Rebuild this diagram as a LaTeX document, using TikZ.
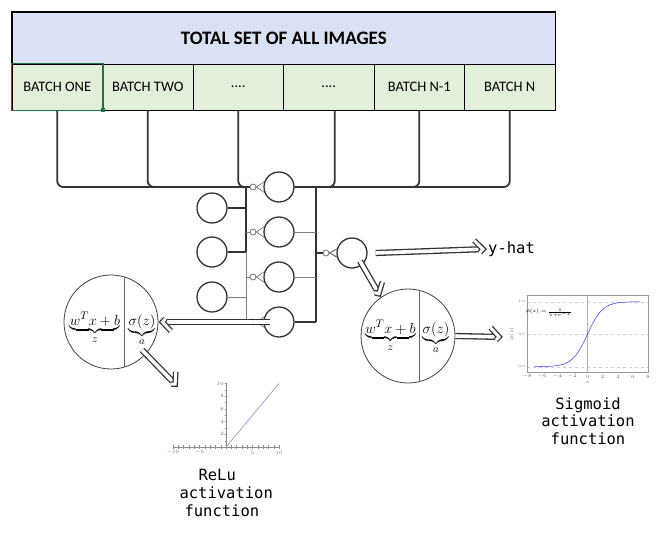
\documentclass[tikz,border=0pt]{standalone}
\usepackage{fontspec}
\usepackage{amsmath}
\newfontfamily\tablefont{Carlito}
\newfontfamily\codefont{DejaVu Sans Mono}
\usetikzlibrary{arrows.meta,decorations.markings}
\definecolor{headblue}{HTML}{D9E1F2}
\definecolor{batchgreen}{HTML}{E2EFDA}
\definecolor{excelgreen}{HTML}{217346}
\definecolor{relublue}{HTML}{9A9AD0}
\begin{document}
\begin{tikzpicture}[x=1pt,y=-1pt,
  cell/.style={draw=black,line width=0.6pt,fill=batchgreen,minimum width=90.5pt,minimum height=46pt,inner sep=0pt,font=\tablefont\fontsize{14.5}{16}\selectfont},
  neuron/.style={circle,draw=black!80,line width=1.3pt,minimum size=30pt,inner sep=0pt,fill=white},
  syn/.style={circle,draw=black!55,line width=0.8pt,minimum size=6pt,inner sep=0pt,fill=white},
  wire/.style={draw=black!80,line width=1.3pt},
  faint/.style={draw=black!50,line width=1pt},
  bus/.style={draw=black!80,line width=1.8pt,rounded corners=6pt},
  fathead/.style={draw=black!80,line width=1.3pt,double=white,double distance=3pt,line join=miter},
  fat/.style={draw=black!80,line width=1.3pt,double=white,double distance=3.6pt,shorten >=8pt,
    postaction={decorate,decoration={markings,mark=at position 1 with {\draw[fathead] (-12.5pt,9pt) -- (-4pt,0pt) -- (-12.5pt,-9pt);}}}},
  unit/.style={circle,draw=black!75,line width=0.8pt,minimum size=94pt,inner sep=0pt},
  fnname/.style={font=\codefont\fontsize{15.5}{17.7}\selectfont,align=center},
  mathlab/.style={anchor=base,inner sep=0pt,font=\fontsize{15}{18}\selectfont},
  ticklab/.style={font=\fontsize{3.5}{4}\selectfont,inner sep=0.5pt,text=black!60}]
\useasboundingbox (0,0) rectangle (661,533);

\node[draw,line width=0.6pt,fill=headblue,minimum width=543pt,minimum height=52pt,anchor=north west,inner sep=0pt,font=\tablefont\bfseries\fontsize{19}{21}\selectfont] (head) at (12,12) {TOTAL SET OF ALL IMAGES};
\node[cell] (b1) at (57.25,87) {BATCH ONE};
\node[cell] (b2) at (147.75,87) {BATCH TWO};
\node[cell] (b3) at (238.25,87) {....};
\node[cell] (b4) at (328.75,87) {....};
\node[cell] (b5) at (419.25,87) {BATCH N-1};
\node[cell] (b6) at (509.75,87) {BATCH N};
\draw[line width=1.6pt] (head.north west) rectangle (b6.south east);
\draw[excelgreen,line width=1.5pt] (b1.north west) rectangle (b1.south east);
\node[fill=excelgreen,inner sep=0pt,minimum size=4pt] (grip) at (b1.south east) {};

\coordinate (ltop) at (246,187);
\coordinate (lbot) at (246,322);
\coordinate (rtop) at (316,187);
\coordinate (rbot) at (316,322);
\draw[wire] (ltop) -- (246,252);
\draw[faint] (246,252) -- (lbot);
\draw[wire] (rtop) -- (rbot);

\node[neuron] (i1) at (212,208) {};
\node[neuron] (i2) at (212,252) {};
\node[neuron] (i3) at (212,297) {};
\draw[wire] (i1.east) -- (i1.east -| ltop);
\draw[wire] (i2.east) -- (i2.east -| ltop);
\draw[faint] (i3.east) -- (i3.east -| ltop);

\foreach \i/\y in {1/187,2/232,3/277,4/322} {
  \node[neuron] (h\i) at (279,\y) {};
  \node[syn] (s\i) at (253,\y) {};
  \draw[faint] (s\i.west -| ltop) -- (s\i.west);
  \draw[black!60,line width=0.6pt] (s\i.east) -- (h\i.160) (s\i.east) -- (h\i.200);
}
\draw[wire] (h1.east) -- (h1.east -| rtop);
\draw[faint] (h2.east) -- (h2.east -| rtop);
\draw[faint] (h3.east) -- (h3.east -| rtop);
\draw[wire] (h4.east) -- (h4.east -| rtop);

\draw[bus] (b1.south) |- (s1.west);
\draw[bus] (b2.south) |- (s1.west);
\draw[bus] (b3.south) |- (s1.west);
\draw[bus] ([xshift=6pt]b4.south) |- (h1.east);
\draw[bus] (b5.south) |- (h1.east);
\draw[bus] (b6.south) |- (h1.east);

\node[neuron] (out) at (352,253) {};
\node[syn] (so) at (326,253) {};
\draw[wire] (so.west -| rtop) -- (so.west);
\draw[black!70,line width=0.8pt] (so.east) -- (out.165) (so.east) -- (out.195);

\node[unit] (uL) at (111,322) {};
\draw[black!60,line width=0.8pt] (uL.73) -- (uL.-73);
\node[mathlab] (zL) at ([shift={(-16,3)}]uL.center) {$\underbrace{w^Tx+b}_{z}$};
\node[mathlab] (aL) at ([shift={(31,3)}]uL.center) {$\underbrace{\sigma(z)}_{a}$};

\node[unit] (uR) at (408,336) {};
\draw[black!60,line width=0.8pt] (uR.76) -- (uR.-76);
\node[mathlab] (zR) at ([shift={(-17.5,-3)}]uR.center) {$\underbrace{w^Tx+b}_{z}$};
\node[mathlab] (aR) at ([shift={(28,-3)}]uR.center) {$\underbrace{\sigma(z)}_{a}$};

\node[fnname,anchor=west,inner sep=1pt] (yhat) at (487,249) {y-hat};
\coordinate (reluTip) at (178,387);
\coordinate (sigTip) at (503,337);
\draw[fat] ([xshift=-9pt]h4.center) -- (uL.east);
\draw[fat] ([xshift=8pt]out.east) -- (yhat.west);
\draw[fat] ([shift={(8,8)}]out.center) -- (uR.125);
\draw[fat] ([shift={(31,28)}]uL.center) -- (reluTip);
\draw[fat] (uR.east) -- (sigTip);

\begin{scope}[shift={(226,447)},x=5.3pt,y=6.35pt]
\draw[black!45,line width=0.5pt] (-10,0) -- (10,0);
\draw[black!45,line width=0.5pt] (0,0) -- (0,10);
\foreach \t in {-10,-9,...,10} \draw[black!45,line width=0.3pt] (\t,-0.25) -- (\t,0.25);
\foreach \t in {1,...,10} \draw[black!45,line width=0.3pt] (-0.25,\t) -- (0.25,\t);
\foreach \t [count=\k] in {-10,-5,5,10} \node[ticklab] (rx\k) at (\t,-0.9) {$\t$};
\foreach \t in {2,4,6,8,10} \node[ticklab,anchor=east] (ry\t) at (-0.3,\t) {$\t$};
\draw[relublue,line width=0.7pt] (0,0) -- (10,10);
\end{scope}

\begin{scope}[shift={(587.5,366.7)},x=7.56pt,y=65pt]
\foreach \v in {0,0.5,1} \draw[black!20,dashed,line width=0.3pt] (-8,\v) -- (8,\v);
\draw[black!30,line width=0.6pt] (0,-0.08) -- (0,1.1);
\draw[black!40,line width=0.5pt] (-8,-0.08) rectangle (8,1.1);
\draw[blue!80,line width=0.5pt,domain=-7:7,samples=80,smooth] plot (\x,{1/(1+exp(-\x))});
\foreach \t [count=\k] in {-8,-6,...,8} \node[ticklab] (sx\k) at (\t,-0.15) {$\t$};
\foreach \t/\v [count=\k] in {0.0/0,0.5/0.5,1.0/1} \node[ticklab,anchor=east] (sy\k) at (-8.2,\v) {\t};
\node[ticklab,rotate=90] (sylab) at (-10,0.5) {$\phi(z)$};
\node[ticklab] (sxlab) at (0,-0.24) {$z$};
\node[font=\fontsize{4}{5}\selectfont,inner sep=0pt] (phi) at (-5.1,0.83) {$\phi(z)=\frac{1}{1+e^{-z}}$};
\end{scope}

\node[fnname,align=left,anchor=north west] (relulabel) at (176,466) {\hspace*{19pt}ReLu\\activation\\\hspace*{5pt}function};
\node[fnname] (siglabel) at (588,421) {Sigmoid\\activation\\function};
\end{tikzpicture}
\end{document}
